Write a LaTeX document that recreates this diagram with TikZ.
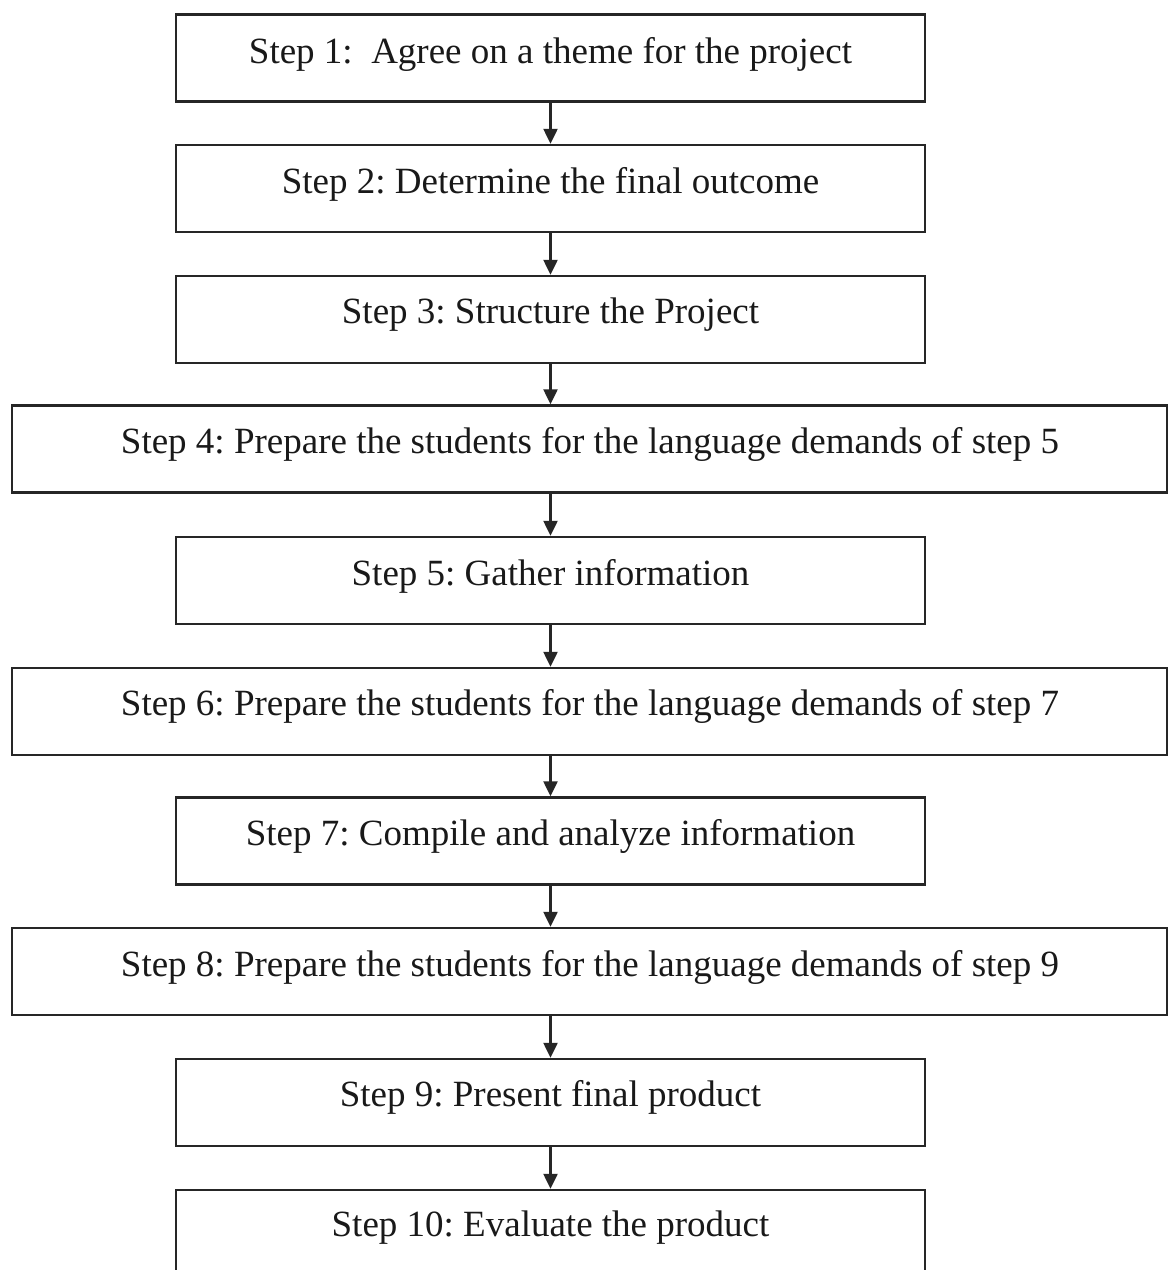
\documentclass[tikz,border=0pt]{standalone}
\usepackage{fontspec}
\setmainfont{Liberation Serif}
\usetikzlibrary{arrows.meta}
\tikzset{
  stepbox/.style={draw=black!85, line width=2.5pt, rectangle, inner sep=0pt, minimum height=87pt},
  narrowbox/.style={stepbox, minimum width=749pt},
  widebox/.style={stepbox, minimum width=1155pt},
  steptext/.style={inner sep=0pt, font=\fontsize{37}{44}\selectfont, text=black!90},
  flowarrow/.style={draw=black!85, line width=2.5pt, -{Triangle[length=15pt,width=14pt]}}
}
\frenchspacing
\begin{document}
\begin{tikzpicture}[x=1pt,y=1pt]
\clip (0,0) rectangle (1169,-1270);
\fill[white] (0,0) rectangle (1169,-1270);
% boxes: centre x, centre y
\node[narrowbox] (b1) at (550.5,-58) {};
\node[narrowbox] (b2) at (550.5,-188.5) {};
\node[narrowbox] (b3) at (550.5,-319.5) {};
\node[widebox]   (b4) at (589.5,-449) {};
\node[narrowbox] (b5) at (550.5,-580.5) {};
\node[widebox]   (b6) at (589.5,-711.5) {};
\node[narrowbox] (b7) at (550.5,-841) {};
\node[widebox]   (b8) at (589.5,-971.5) {};
\node[narrowbox] (b9) at (550.5,-1102.5) {};
\node[narrowbox, minimum height=100pt] (b10) at (550.5,-1240) {};
% texts
\node[steptext] (t1) at (550.5,-54) {Step 1:\ \ Agree on a theme for the project};
\node[steptext] (t2) at (550.5,-184) {Step 2: Determine the final outcome};
\node[steptext] (t3) at (550.5,-315) {Step 3: Structure the Project};
\node[steptext] (t4) at (590,-444) {Step 4: Prepare the students for the language demands of step 5};
\node[steptext] (t5) at (550.5,-576) {Step 5: Gather information};
\node[steptext] (t6) at (590,-706) {Step 6: Prepare the students for the language demands of step 7};
\node[steptext] (t7) at (550.5,-836) {Step 7: Compile and analyze information};
\node[steptext] (t8) at (590,-967) {Step 8: Prepare the students for the language demands of step 9};
\node[steptext] (t9) at (550.5,-1097) {Step 9: Present final product};
\node[steptext] (t10) at (550.5,-1228) {Step 10: Evaluate the product};
% arrows
\foreach \a/\b in {b1/b2,b2/b3,b3/b4,b4/b5,b5/b6,b6/b7,b7/b8,b8/b9,b9/b10}{
  \draw[flowarrow] (\a.south -| b1.center) -- (\b.north -| b1.center);
}
\end{tikzpicture}
\end{document}
